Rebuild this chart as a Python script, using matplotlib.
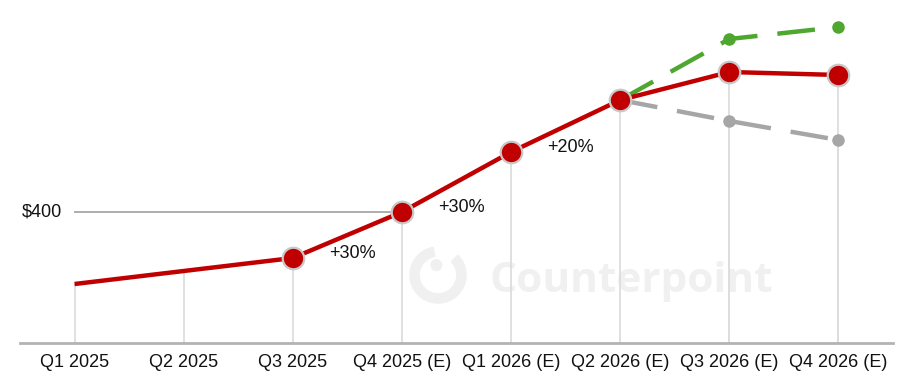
import numpy as np
import matplotlib.pyplot as plt
from matplotlib.patches import Wedge, Circle

# Quarterly values (USD)
quarters = ["Q1 2025", "Q2 2025", "Q3 2025", "Q4 2025 (E)",
            "Q1 2026 (E)", "Q2 2026 (E)", "Q3 2026 (E)", "Q4 2026 (E)"]
base_vals = [256, 282, 308, 400, 520, 624, 680, 674]
bull_vals = [624, 746, 770]   # from Q2 2026 onwards
bear_vals = [624, 582, 544]
growth_idx = [2, 3, 4]
growth_labels = ["+30%", "+30%", "+20%"]
ref_value = 400

RED = "#C00000"
GREEN = "#4EA72E"
GREY = "#A6A6A6"

plt.rcParams['font.family'] = ['Liberation Sans', 'DejaVu Sans']

fig = plt.figure(figsize=(9.08, 3.84), dpi=100)
ax = fig.add_axes([20 / 908, 41 / 384, 873 / 908, 343 / 384])

x = np.arange(len(quarters))
ax.set_xlim(-0.5, len(quarters) - 0.5)
ax.set_ylim(138, 824)

# drop lines from every point to the baseline
ax.vlines(x, 138, base_vals, color="#DDDDDD", lw=1.3, zorder=1)
ax.vlines(x[-2:], 138, bear_vals[1:], color="#DDDDDD", lw=1.3, zorder=1)

# reference line at $400
ax.plot([x[0], x[3]], [ref_value, ref_value], color="#A6A6A6", lw=1.3, zorder=1)
ax.annotate("$400", xy=(x[0], ref_value), xytext=(-13, 0), textcoords="offset pixels",
            ha="right", va="center", fontsize=13, color="#111111")

# scenario lines
xs = x[5:]
ax.plot(xs, bear_vals, color=GREY, lw=3.2, dashes=(8.5, 4.5), zorder=2)
ax.plot(xs[1:], bear_vals[1:], "o", color=GREY, ms=8, zorder=3)
ax.plot(xs, bull_vals, color=GREEN, lw=3.2, dashes=(8.5, 4.5), zorder=2)
ax.plot(xs[1:], bull_vals[1:], "o", color=GREEN, ms=8, zorder=3)

# base line
ax.plot(x, base_vals, color=RED, lw=3.2, solid_capstyle="butt", zorder=4)
ax.plot(x[2:], base_vals[2:], "o", color=RED, ms=15.5, mec="#C8C8C8", mew=1.6, zorder=5)

for i, lab in zip(growth_idx, growth_labels):
    ax.annotate(lab, xy=(x[i], base_vals[i]), xytext=(36, 4), textcoords="offset pixels",
                ha="left", va="center", fontsize=13, color="#111111")

# axis styling
for s in ["top", "right", "left"]:
    ax.spines[s].set_visible(False)
ax.spines["bottom"].set_color("#B3B3B3")
ax.spines["bottom"].set_linewidth(2)
ax.set_yticks([])
ax.set_xticks(x)
ax.set_xticklabels(quarters, fontsize=13, color="#111111")
ax.tick_params(axis="x", length=0, pad=8)

# watermark
fig.text(490 / 908, 92 / 384, "Counterpoint", fontsize=30.5, fontweight="bold",
         family=["Open Sans", "DejaVu Sans"], color="#F0F0F0", ha="left", va="baseline", zorder=0)
lax = fig.add_axes([405 / 908, 76 / 384, 66 / 908, 66 / 384], zorder=-1)
lax.set_xlim(-1, 1)
lax.set_ylim(-1, 1)
lax.set_aspect("equal")
lax.axis("off")
lax.add_patch(Wedge((0, 0), 0.85, 100, 405, width=0.28, color="#F0F0F0"))
lax.add_patch(Circle((-0.05, 0.3), 0.16, color="#F0F0F0"))
ax.set_facecolor("none")
ax.set_zorder(1)

fig.savefig("out.png", dpi=100)
